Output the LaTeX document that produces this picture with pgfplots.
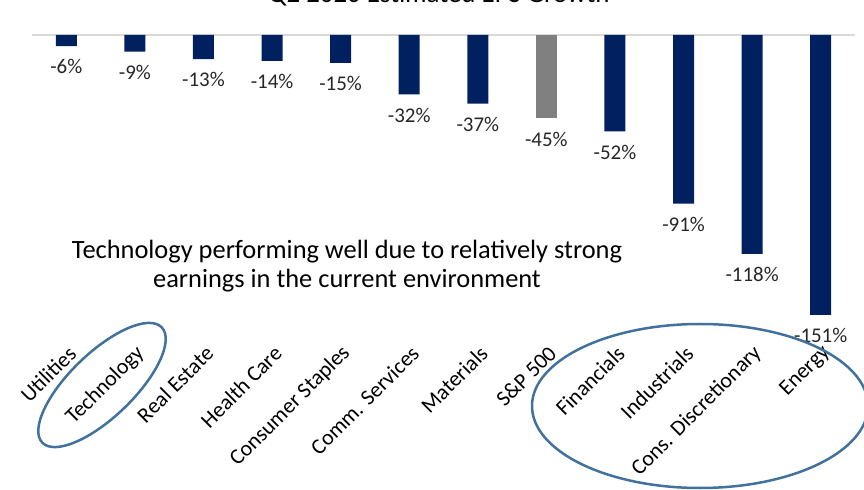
\documentclass[border=0pt]{standalone}
\usepackage{pgfplots}
\pgfplotsset{compat=1.18}
\usepackage{fontspec}
\setmainfont{Carlito}
\definecolor{navy}{RGB}{0,32,96}
\definecolor{bargray}{RGB}{128,128,128}
\definecolor{ellblue}{RGB}{65,113,156}
\definecolor{zeroline}{RGB}{217,217,217}
\begin{document}
\begin{tikzpicture}
\useasboundingbox (0bp,0bp) rectangle (864bp,490bp);
\clip (0bp,0bp) rectangle (864bp,490bp);
\node[anchor=base, font=\fontsize{27}{32}\selectfont] at (439bp,487bp) {Q2 2020 Estimated EPS Growth};
\begin{axis}[at={(32bp,455bp)}, anchor=north west, scale only axis,
 width=823bp, height=309.6bp,
 xmin=-0.5, xmax=11.5, ymin=-167, ymax=0,
 ybar, bar width=21bp, bar shift=0pt,
 axis line style={draw=none}, tick style={draw=none}, ytick=\empty,
 xtick={0,...,11},
 xticklabels={Utilities,Technology,Real Estate,Health Care,Consumer Staples,Comm. Services,Materials,S\&P 500,Financials,Industrials,Cons. Discretionary,Energy},
 xticklabel style={rotate=45, anchor=east, font=\fontsize{22}{26}\selectfont, xshift=7bp, yshift=-5bp},
 point meta=explicit symbolic,
 nodes near coords,
 every node near coord/.append style={anchor=north, yshift=-10bp, font=\fontsize{21}{25}\selectfont, text=black!85},
 clip=false]
\draw[zeroline, line width=2bp] (axis cs:-0.5,0) -- (axis cs:11.5,0);
\addplot[fill=navy, draw=none] coordinates {
 (0,-6) [-6\%]
 (1,-9) [-9\%]
 (2,-13) [-13\%]
 (3,-14) [-14\%]
 (4,-15) [-15\%]
 (5,-32) [-32\%]
 (6,-37) [-37\%]
 (8,-52) [-52\%]
 (9,-91) [-91\%]
 (10,-118) [-118\%]
 (11,-151) [-151\%]
};
\addplot[fill=bargray, draw=none] coordinates {(7,-45) [-45\%]};
\end{axis}
\draw[ellblue, line width=2.5bp, rotate around={44:(102bp,105bp)}] (102bp,105bp) ellipse [x radius=83bp, y radius=32bp];
\draw[ellblue, line width=2.5bp] (700bp,84bp) ellipse [x radius=168bp, y radius=82bp];
\node[font=\fontsize{26.5}{31}\selectfont, anchor=base] at (347bp,231bp) {Technology performing well due to relatively strong};
\node[font=\fontsize{26.5}{31}\selectfont, anchor=base] at (347bp,202bp) {earnings in the current environment};
\end{tikzpicture}
\end{document}
